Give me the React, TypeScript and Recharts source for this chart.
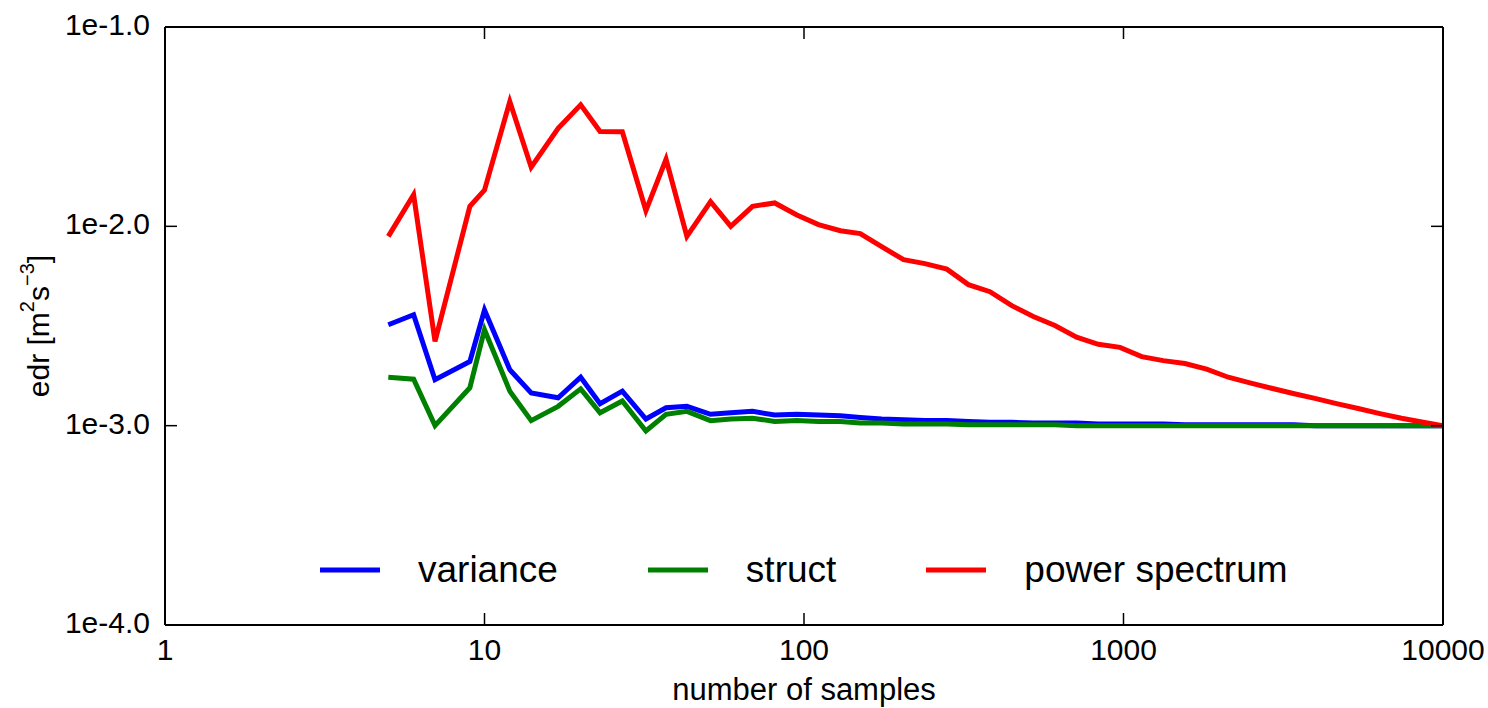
import { LineChart, Line, XAxis, YAxis, Legend } from 'recharts';

const samples = [
  5, 6, 7, 9, 10, 12, 14, 17, 20, 23, 27, 32, 37, 43, 51, 59, 69, 81, 95, 111, 130, 150, 175, 205,
  239, 280, 327, 382, 447, 522, 610, 713, 834, 975, 1140, 1332, 1557, 1820, 2128, 2487, 2907,
  3398, 3972, 4643, 5428, 6345, 7416, 8669, 10000,
];

const variance = [
  0.00321, 0.0036, 0.0017, 0.0021, 0.0038, 0.00191, 0.00146, 0.00138, 0.00175, 0.00129, 0.00149,
  0.00108, 0.00123, 0.00125, 0.00114, 0.00116, 0.00118, 0.00113, 0.00114, 0.00113, 0.00112,
  0.0011, 0.00108, 0.00107, 0.00106, 0.00106, 0.00105, 0.00104, 0.00104, 0.00103, 0.00103,
  0.00103, 0.00102, 0.00102, 0.00102, 0.00102, 0.00101, 0.00101, 0.00101, 0.00101, 0.00101,
  0.00101, 0.001, 0.001, 0.001, 0.001, 0.001, 0.001, 0.001,
];

const struct = [
  0.00175, 0.00171, 0.001, 0.00155, 0.00303, 0.00149, 0.00106, 0.00125, 0.00153, 0.00116, 0.00133,
  0.00094, 0.00114, 0.00118, 0.00106, 0.00108, 0.00109, 0.00105, 0.00106, 0.00105, 0.00105,
  0.00103, 0.00103, 0.00102, 0.00102, 0.00102, 0.00101, 0.00101, 0.00101, 0.00101, 0.00101,
  0.001, 0.001, 0.001, 0.001, 0.001, 0.001, 0.001, 0.001, 0.001, 0.001, 0.001, 0.001, 0.001,
  0.001, 0.001, 0.001, 0.001, 0.001,
];

const powerSpectrum = [
  0.0089, 0.0144, 0.00265, 0.0126, 0.0152, 0.0423, 0.0198, 0.031, 0.0407, 0.0299, 0.0298, 0.012,
  0.0217, 0.0089, 0.0133, 0.01, 0.0126, 0.0131, 0.0114, 0.0102, 0.0095, 0.0092, 0.0079, 0.0068,
  0.0065, 0.0061, 0.0051, 0.0047, 0.004, 0.00353, 0.00318, 0.00278, 0.00256, 0.00247, 0.00222,
  0.00212, 0.00205, 0.00192, 0.00175, 0.00164, 0.00154, 0.00145, 0.00137, 0.00129, 0.00122,
  0.00115, 0.00109, 0.00104, 0.001,
];

const seriesNames = ['variance', 'struct', 'power spectrum'];
const xTicks = [1, 10, 100, 1000, 10000];
const yTicks = [0.0001, 0.001, 0.01, 0.1];

const data = samples.map((n, i) => ({
  n,
  variance: variance[i],
  struct: struct[i],
  power: powerSpectrum[i],
}));

const FONT = '"Liberation Sans", Arial, Helvetica, sans-serif';
const TICK_LEN = 12;

const fmtExp = (v: number) => `1e${Math.log10(v).toFixed(1)}`;

const BottomTick = ({ x, y, payload }: any) => (
  <g>
    <line x1={x} y1={y} x2={x} y2={y - TICK_LEN} stroke="#000" strokeWidth={1.5} />
    <text x={x} y={y + 35} textAnchor="middle" fontSize={30} fill="#000" fontFamily={FONT}>
      {payload.value}
    </text>
  </g>
);

const TopTick = ({ x, y }: any) => (
  <line x1={x} y1={y} x2={x} y2={y + TICK_LEN} stroke="#000" strokeWidth={1.5} />
);

const LeftTick = ({ x, y, payload }: any) => (
  <g>
    <line x1={x} y1={y} x2={x + TICK_LEN} y2={y} stroke="#000" strokeWidth={1.5} />
    <text x={x - 15} y={y + 8} textAnchor="end" fontSize={30} fill="#000" fontFamily={FONT}>
      {fmtExp(payload.value)}
    </text>
  </g>
);

const RightTick = ({ x, y }: any) => (
  <line x1={x} y1={y} x2={x - TICK_LEN} y2={y} stroke="#000" strokeWidth={1.5} />
);

const XLabel = ({ viewBox }: any) => (
  <text
    x={viewBox.x + viewBox.width / 2}
    y={viewBox.y + 75}
    textAnchor="middle"
    fontSize={31}
    fill="#000"
    fontFamily={FONT}
  >
    number of samples
  </text>
);

const YLabel = ({ viewBox }: any) => {
  const cx = 38;
  const cy = viewBox.y + viewBox.height / 2;
  return (
    <text
      x={cx}
      y={cy}
      transform={`rotate(-90 ${cx} ${cy})`}
      textAnchor="middle"
      dominantBaseline="central"
      fontSize={30}
      fill="#000"
      fontFamily={FONT}
    >
      edr [m
      <tspan fontSize={20} dy={-11}>2</tspan>
      <tspan dy={11}>s</tspan>
      <tspan fontSize={20} dy={-11}>−3</tspan>
      <tspan dy={11}>]</tspan>
    </text>
  );
};

const LegendContent = ({ payload }: any) => {
  // keep plotting order, not alphabetical
  const items = [...(payload || [])].sort(
    (a: any, b: any) => seriesNames.indexOf(a.value) - seriesNames.indexOf(b.value),
  );
  return (
    <div style={{ display: 'flex', alignItems: 'center', fontFamily: FONT }}>
      {items.map((entry: any, i: number) => (
        <div
          key={entry.value}
          style={{ display: 'flex', alignItems: 'center', marginLeft: i === 0 ? 0 : 90 }}
        >
          <svg width={60} height={8}>
            <line x1={0} y1={4} x2={60} y2={4} stroke={entry.color} strokeWidth={5} />
          </svg>
          <span style={{ marginLeft: 38, fontSize: 37, color: '#000', lineHeight: '42px' }}>
            {entry.value}
          </span>
        </div>
      ))}
    </div>
  );
};

export default function App() {
  return (
    <div style={{ position: 'absolute', left: 0, top: 0, background: '#fff' }}>
      <LineChart
        width={1488}
        height={708}
        data={data}
        margin={{ top: 0, right: 0, bottom: 0, left: 0 }}
        style={{ fontFamily: FONT }}
      >
        <XAxis
          dataKey="n"
          type="number"
          scale="log"
          domain={[1, 10000]}
          allowDataOverflow
          ticks={xTicks}
          interval={0}
          height={83}
          tickSize={0}
          tickMargin={0}
          tickLine={false}
          tick={<BottomTick />}
          axisLine={{ stroke: '#000', strokeWidth: 2 }}
          label={<XLabel />}
        />
        <XAxis
          xAxisId="top"
          orientation="top"
          dataKey="n"
          type="number"
          scale="log"
          domain={[1, 10000]}
          allowDataOverflow
          ticks={xTicks}
          interval={0}
          height={27}
          tickSize={0}
          tickMargin={0}
          tickLine={false}
          tick={<TopTick />}
          axisLine={{ stroke: '#000', strokeWidth: 2 }}
        />
        <YAxis
          type="number"
          scale="log"
          domain={[0.0001, 0.1]}
          allowDataOverflow
          ticks={yTicks}
          interval={0}
          width={165}
          tickSize={0}
          tickMargin={0}
          tickLine={false}
          tick={<LeftTick />}
          axisLine={{ stroke: '#000', strokeWidth: 2 }}
          label={<YLabel />}
        />
        <YAxis
          yAxisId="right"
          orientation="right"
          type="number"
          scale="log"
          domain={[0.0001, 0.1]}
          allowDataOverflow
          ticks={yTicks}
          interval={0}
          width={45}
          tickSize={0}
          tickMargin={0}
          tickLine={false}
          tick={<RightTick />}
          axisLine={{ stroke: '#000', strokeWidth: 2 }}
        />
        <Legend
          layout="horizontal"
          verticalAlign="middle"
          align="center"
          content={<LegendContent />}
          wrapperStyle={{ position: 'absolute', top: 549, left: 320, width: 1050, height: 42 }}
        />
        <Line
          name="variance"
          dataKey="variance"
          type="linear"
          stroke="#0000ff"
          strokeWidth={5}
          dot={false}
          legendType="line"
          isAnimationActive={false}
        />
        <Line
          name="struct"
          dataKey="struct"
          type="linear"
          stroke="#008000"
          strokeWidth={5}
          dot={false}
          legendType="line"
          isAnimationActive={false}
        />
        <Line
          name="power spectrum"
          dataKey="power"
          type="linear"
          stroke="#ff0000"
          strokeWidth={5}
          dot={false}
          legendType="line"
          isAnimationActive={false}
        />
      </LineChart>
    </div>
  );
}
